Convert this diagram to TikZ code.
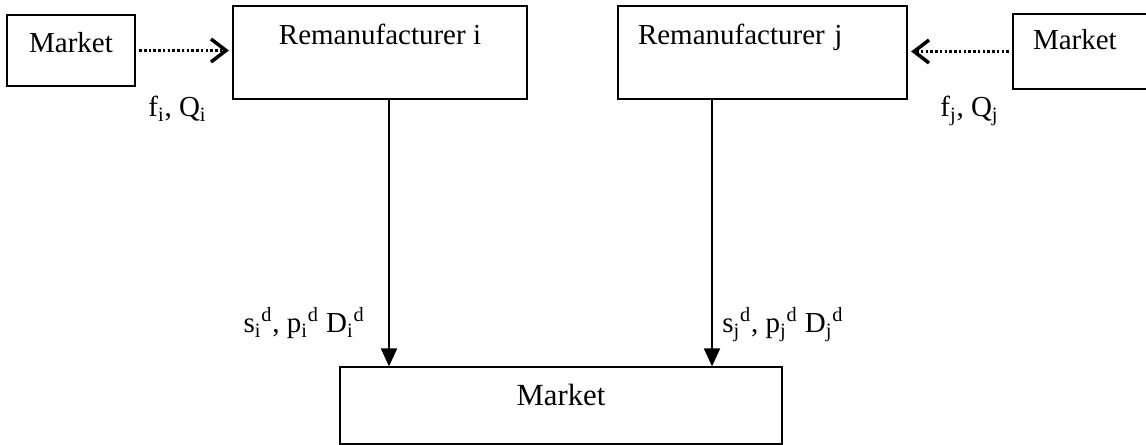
\documentclass[tikz,border=0pt]{standalone}
\usepackage{fontspec}
\setmainfont{Liberation Serif}
\usepackage{tikz}
\usetikzlibrary{arrows.meta}

\tikzset{
  box/.style={draw, rectangle, line width=0.7pt, font=\fontsize{16.5}{20}\selectfont},
  dotflow/.style={line width=2pt, dash pattern=on 1.5pt off 1.2pt, shorten <=2pt, shorten >=2pt,
    -{Straight Barb[length=3mm, width=4.6mm, line width=2pt]}},
  flow/.style={line width=1.1pt, -{Triangle[length=3.6mm, width=3.2mm]}},
  lbl/.style={inner sep=0pt, font=\fontsize{16.5}{20}\selectfont}
}

\begin{document}
\begin{tikzpicture}
        \useasboundingbox (0,0) rectangle (22.92,-8.9);

        \node[box, minimum width=2.56cm, minimum height=1.42cm, text height=0.5cm, text depth=0.4cm] (mkti) at (1.42,-1.01) {Market};
        \node[box, minimum width=5.88cm, minimum height=1.86cm, text height=0.4cm, text depth=0.7cm] (remi) at (7.6,-1.05) {Remanufacturer i};

        \node[box, minimum width=5.78cm, minimum height=1.86cm, text height=0.4cm, text depth=0.7cm, inner xsep=0.4cm, text width=4.98cm, align=left] (remj) at (15.25,-1.05) {Remanufacturer j};
        \node[box, minimum width=2.94cm, minimum height=1.5cm, text height=0.42cm, text depth=0.48cm, inner xsep=0.4cm, text width=2.14cm, align=left] (mktj) at (21.73,-1.03) {Market};

        \node[box, minimum width=8.84cm, minimum height=1.54cm, text height=0.45cm, text depth=0.45cm, font=\fontsize{17.5}{21}\selectfont] (mkt) at (11.22,-8.11) {Market};

        % dotted inputs
        \draw[dotflow] (mkti.east) -- (mkti.east -| remi.west);
        \draw[dotflow] (mktj.west) -- (mktj.west -| remj.east);

        \node[lbl, anchor=base west] (fi) at (2.96,-2.34) {f\textsubscript{i}, Q\textsubscript{i}};
        \node[lbl, anchor=base west] (fj) at (18.8,-2.34) {f\textsubscript{j}, Q\textsubscript{j}};

        % flows to the market
        \draw[flow] ([xshift=0.18cm]remi.south) -- ([xshift=0.18cm]remi.south |- mkt.north);
        \draw[flow] ([xshift=-1.01cm]remj.south) -- ([xshift=-1.01cm]remj.south |- mkt.north);

        \node[lbl, anchor=base east] (si) at (7.3,-6.66) {s\textsubscript{i}\textsuperscript{d}, p\textsubscript{i}\textsuperscript{d} D\textsubscript{i}\textsuperscript{d}};
        \node[lbl, anchor=base west] (sj) at (14.44,-6.66) {s\textsubscript{j}\textsuperscript{d}, p\textsubscript{j}\textsuperscript{d} D\textsubscript{j}\textsuperscript{d}};
    \end{tikzpicture}
\end{document}
